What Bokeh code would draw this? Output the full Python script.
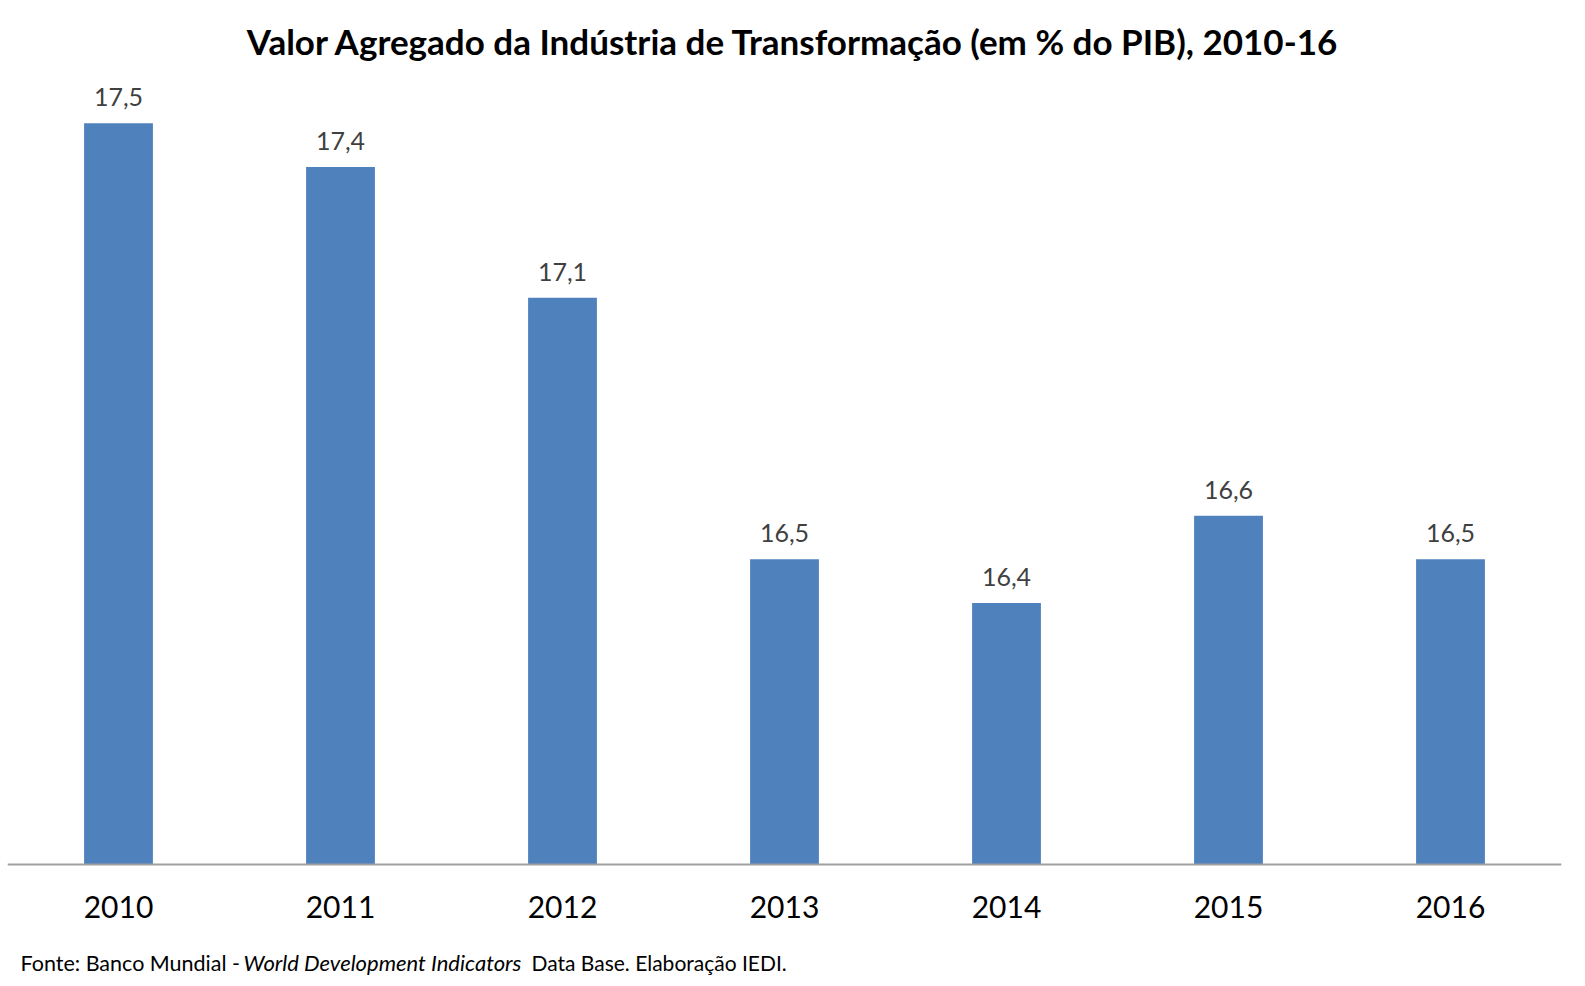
from bokeh.plotting import figure
from bokeh.models import FactorRange, Range1d, ColumnDataSource, LabelSet, Label
from bokeh.core.properties import value
from bokeh.embed import file_html
from bokeh.resources import INLINE

years = ["2010", "2011", "2012", "2013", "2014", "2015", "2016"]
values = [17.5, 17.4, 17.1, 16.5, 16.4, 16.6, 16.5]
labels = [f"{v:.1f}".replace(".", ",") for v in values]

title_text = "Valor Agregado da Indústria de Transformação (em % do PIB), 2010-16"
foot_a = "Fonte: Banco Mundial - "
foot_b = "World Development Indicators"
foot_c = " Data Base. Elaboração IEDI."

FONT = "Lato"
W, H = 1585, 980
LEFT = 7
FRAME_W = 1554
BASE_PX = 864      # baseline position from top
PX_PER_UNIT = 436.0
BASE = 15.8

src = ColumnDataSource(dict(x=years, top=values, label=labels))

p = figure(x_range=FactorRange(*years),
           y_range=Range1d(BASE - (H - BASE_PX) / PX_PER_UNIT, BASE + BASE_PX / PX_PER_UNIT),
           width=W, height=H, output_backend="svg", toolbar_location=None,
           min_border_left=LEFT, min_border_right=W - LEFT - FRAME_W,
           min_border_top=0, min_border_bottom=0)
p.x_range.range_padding = 0
p.vbar(x="x", top="top", bottom=BASE, width=0.31, source=src, color="#4F81BD", line_color=None)

p.add_layout(LabelSet(x="x", y="top", text="label", source=src, text_align="center",
                      text_baseline="alphabetic", y_offset=17, text_font=value(FONT),
                      text_font_size="25px", text_color="#404040"))

p.yaxis.visible = False
p.xgrid.visible = False
p.ygrid.visible = False
p.outline_line_color = None
p.xaxis.fixed_location = BASE
p.xaxis.axis_line_color = "#A0A0A0"
p.xaxis.axis_line_width = 2
p.xaxis.major_tick_line_color = None
p.xaxis.minor_tick_line_color = None
p.xaxis.major_label_text_font = FONT
p.xaxis.major_label_text_font_size = "30px"
p.xaxis.major_label_text_color = "#000000"
p.xaxis.major_label_standoff = 25
p.background_fill_color = "white"
p.border_fill_color = "white"

p.add_layout(Label(x=786, y=H - 40, x_units="screen", y_units="screen", text=title_text,
                   text_align="center", text_baseline="alphabetic", text_font=FONT,
                   text_font_style="bold", text_font_size="35px", text_color="#000000"))

for txt, xx, style, fs in [(foot_a, 13, "normal", "21.5px"), (foot_b, 236, "italic", "22px"),
                           (foot_c, 524, "normal", "21px")]:
    p.add_layout(Label(x=xx, y=H - 962, x_units="screen", y_units="screen", text=txt,
                       text_align="left", text_baseline="alphabetic", text_font=FONT,
                       text_font_style=style, text_font_size=fs, text_color="#000000"))

open("out.html", "w").write(file_html(p, INLINE))
